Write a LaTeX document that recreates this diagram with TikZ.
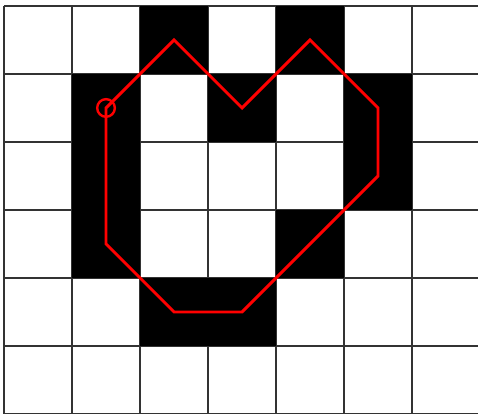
\documentclass[tikz,border=0pt]{standalone}
\usepackage{tikz}
\usetikzlibrary{calc}

\begin{document}
\begin{tikzpicture}[x=1cm, y=1cm]
  \useasboundingbox (-0.059,0) rectangle (6.97,6.088);
  % grid
  \foreach \i in {0,...,6} {
    \draw[black!80, line width=0.6pt] (\i,0)--(\i,6);
    \draw[black!80, line width=0.6pt] (0,\i)--(7,\i);
  }
  % filled pixels (column, row from top)
  \foreach \c/\r in {2/0,4/0,1/1,3/1,5/1,1/2,5/2,1/3,4/3,2/4,3/4} {
    \fill[black] (\c,5-\r) rectangle ({\c+1},6-\r);
  }
  % contour through pixel centres
  \foreach \n/\c/\r in {p0/1/1,p1/2/0,p2/3/1,p3/4/0,p4/5/1,p5/5/2,p6/4/3,p7/3/4,p8/2/4,p9/1/3} {
    \coordinate (\n) at ({\c+0.5},{5.5-\r});
  }
  \draw[red, line width=1.2pt, line join=miter]
    (p0)--(p1)--(p2)--(p3)--(p4)--(p5)--(p6)--(p7)--(p8)--(p9)--cycle;
  \draw[red, line width=1pt] (p0) circle (0.13);
\end{tikzpicture}
\end{document}
